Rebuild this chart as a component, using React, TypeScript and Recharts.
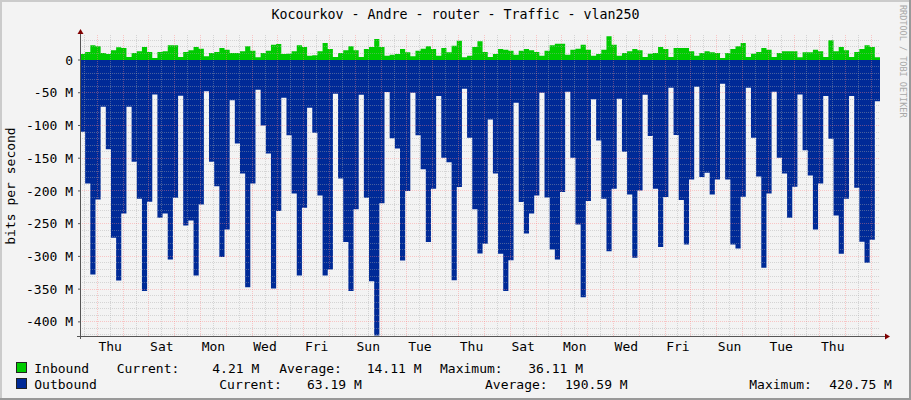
import React from 'react';
import { AreaChart, Area, XAxis, YAxis, ReferenceLine } from 'recharts';

// ---- data (values in Mbit/s) ----
const STEP_HOURS = 4.8;
const SPAN_HOURS = 744;
const FIRST_MIDNIGHT_HOURS = 16.1;

const dayLabels = ['Thu', 'Sat', 'Mon', 'Wed', 'Fri', 'Sun', 'Tue', 'Thu', 'Sat', 'Mon', 'Wed', 'Fri', 'Sun', 'Tue', 'Thu'];

const inboundM = [
  9.2, 12.2, 22.4, 20.9, 10.7, 9.2, 14.8, 19.4, 18.3, 4.6,
  10.7, 13.2, 19.9, 12.2, 3.1, 12.2, 13.2, 22.4, 22.4, 4.6,
  12.2, 14.8, 19.9, 17.3, 5.6, 10.7, 12.2, 18.3, 15.8, 10.7,
  10.7, 13.2, 20.9, 14.3, 4.1, 10.7, 14.3, 23.4, 24.5, 9.2,
  9.7, 13.2, 22.4, 19.9, 6.6, 7.1, 13.2, 26.0, 16.8, 4.6,
  10.7, 14.8, 20.9, 14.8, 4.6, 16.8, 19.9, 32.1, 19.9, 6.6,
  8.2, 9.2, 16.8, 11.7, 5.6, 14.3, 17.3, 20.9, 16.8, 6.6,
  18.3, 11.7, 21.9, 29.6, 4.1, 6.6, 19.9, 28.5, 12.2, 4.6,
  9.2, 16.8, 15.8, 14.3, 8.2, 14.3, 16.8, 14.8, 12.2, 6.6,
  14.3, 22.4, 25.0, 25.0, 8.2, 15.8, 17.3, 23.4, 15.8, 6.6,
  9.2, 15.8, 36.11, 23.4, 6.6, 10.7, 13.2, 16.8, 14.8, 4.6,
  9.7, 10.7, 19.9, 16.8, 4.6, 18.3, 18.3, 18.3, 13.2, 6.6,
  10.7, 13.2, 11.7, 10.7, 3.1, 10.7, 16.8, 20.9, 26.0, 4.6,
  9.7, 12.2, 18.3, 15.8, 4.6, 10.7, 13.2, 13.2, 13.2, 4.1,
  11.7, 11.7, 15.8, 13.2, 4.6, 30.1, 13.2, 19.9, 14.8, 4.6,
  12.2, 16.8, 22.4, 19.9, 4.21,
];

const outboundM = [
  109.5, 188.5, 327.6, 213.0, 71.3, 136.5, 271.6, 336.8, 234.4, 71.3,
  155.4, 212.0, 353.0, 216.5, 52.5, 241.0, 234.4, 304.7, 210.4, 54.5,
  252.7, 245.0, 329.0, 220.6, 47.9, 155.4, 193.0, 301.0, 258.8, 61.6,
  127.4, 173.2, 347.0, 188.5, 45.3, 99.9, 142.7, 349.0, 230.8, 57.6,
  115.0, 203.8, 329.0, 225.7, 72.9, 111.0, 206.9, 329.0, 320.0, 51.5,
  180.9, 278.0, 353.0, 228.0, 53.0, 210.4, 337.8, 420.75, 219.0, 48.9,
  119.7, 135.0, 306.2, 200.2, 49.9, 115.0, 167.0, 278.0, 196.7, 55.0,
  149.3, 156.0, 336.3, 194.0, 43.8, 118.7, 228.0, 295.5, 280.7, 90.7,
  173.2, 296.0, 353.0, 305.7, 65.2, 217.0, 265.0, 234.4, 206.9, 49.9,
  210.0, 289.4, 304.7, 201.8, 48.4, 149.3, 251.2, 362.3, 215.5, 60.1,
  122.8, 212.0, 292.0, 196.7, 59.1, 140.0, 205.3, 302.0, 199.2, 53.0,
  116.2, 196.7, 285.8, 209.4, 42.3, 114.6, 214.0, 281.8, 182.4, 40.8,
  178.8, 172.2, 205.3, 182.4, 36.2, 182.4, 281.8, 287.9, 208.9, 42.3,
  118.7, 177.8, 317.4, 203.8, 48.4, 149.3, 173.2, 241.0, 193.6, 52.5,
  138.0, 176.3, 258.8, 188.5, 55.0, 120.2, 237.4, 296.0, 212.0, 55.0,
  195.1, 277.7, 309.8, 274.6, 63.19,
];

const yTicks = [-400, -350, -300, -250, -200, -150, -100, -50, 0];
const Y_DOMAIN = [-421.6, 38.2];

const legendRows = [
  { name: 'Inbound', color: '#00CC00', current: '4.21 M', average: '14.11 M', maximum: '36.11 M' },
  { name: 'Outbound', color: '#002A97', current: '63.19 M', average: '190.59 M', maximum: '420.75 M' },
];

// ---- derived ----
const data = inboundM.map((v, i) => ({ t: i * STEP_HOURS, inbound: v, outbound: -outboundM[i] }));
data.push({ t: SPAN_HOURS, inbound: inboundM[inboundM.length - 1], outbound: -outboundM[outboundM.length - 1] });

const labelTicks = dayLabels.map((_, i) => FIRST_MIDNIGHT_HOURS + 12 + 48 * i);
const fmtDay = (v: number) => {
  const i = Math.round((v - FIRST_MIDNIGHT_HOURS - 12) / 48);
  return dayLabels[i] ?? '';
};
const fmtY = (v: number) => (v === 0 ? '0' : `${v} M`);

const midnightLines: number[] = [];
for (let t = FIRST_MIDNIGHT_HOURS; t < SPAN_HOURS; t += 24) midnightLines.push(t);
const noonLines: number[] = [];
for (let t = FIRST_MIDNIGHT_HOURS - 12; t < SPAN_HOURS; t += 24) if (t > 0) noonLines.push(t);
const majorY = yTicks.filter((v) => v !== 0);
const minorY: number[] = [];
for (let v = -420; v <= 30; v += 10) if (v % 50 !== 0) minorY.push(v);

const MONO = '"DejaVu Sans Mono", monospace';
const MINOR = 'rgba(170,170,170,0.42)';
const MAJOR = 'rgba(255,128,128,0.4)';

export default function App() {
  return (
    <div style={{ position: 'absolute', left: 0, top: 0, width: 911, height: 400, background: '#F3F3F3', overflow: 'hidden' }}>
      <AreaChart
        width={911}
        height={400}
        data={data}
        margin={{ top: 35, right: 31, bottom: 34, left: 0 }}
      >
        <XAxis
          dataKey="t"
          type="number"
          domain={[0, SPAN_HOURS]}
          allowDataOverflow
          ticks={labelTicks}
          tickFormatter={fmtDay}
          interval={0}
          height={30}
          axisLine={false}
          tickLine={false}
          tickSize={2}
          tickMargin={3.5}
          tick={{ fill: '#000', fontSize: 13, fontFamily: MONO }}
        />
        <YAxis
          type="number"
          domain={Y_DOMAIN}
          allowDataOverflow
          ticks={yTicks}
          tickFormatter={fmtY}
          interval={0}
          width={80}
          axisLine={false}
          tickLine={{ stroke: '#555' }}
          tickSize={2}
          tickMargin={5}
          tick={{ fill: '#000', fontSize: 13, fontFamily: MONO }}
        />
        <Area
          type="stepAfter"
          dataKey="inbound"
          stroke="none"
          fill="#00CC00"
          fillOpacity={1}
          baseValue={0}
          dot={false}
          activeDot={false}
          isAnimationActive={false}
        />
        <Area
          type="stepAfter"
          dataKey="outbound"
          stroke="none"
          fill="#002A97"
          fillOpacity={1}
          baseValue={0}
          dot={false}
          activeDot={false}
          isAnimationActive={false}
        />
        {minorY.map((v) => (
          <ReferenceLine key={`my${v}`} y={v} stroke={MINOR} strokeDasharray="1 1" shapeRendering="crispEdges" />
        ))}
        {noonLines.map((t) => (
          <ReferenceLine key={`nx${t}`} x={t} stroke={MINOR} strokeDasharray="1 1" shapeRendering="crispEdges" />
        ))}
        {majorY.map((v) => (
          <ReferenceLine key={`My${v}`} y={v} stroke={MAJOR} strokeDasharray="1 1" shapeRendering="crispEdges" />
        ))}
        {midnightLines.map((t) => (
          <ReferenceLine key={`Mx${t}`} x={t} stroke={MAJOR} strokeDasharray="1 1" shapeRendering="crispEdges" />
        ))}
      </AreaChart>
      <svg
        width={911}
        height={400}
        style={{ position: 'absolute', left: 0, top: 0, pointerEvents: 'none' }}
        fontFamily={MONO}
      >
        {/* frame */}
        <rect x={0} y={0} width={911} height={2} fill="#CBCBCB" />
        <rect x={0} y={0} width={2} height={400} fill="#CBCBCB" />
        <rect x={0} y={398} width={911} height={2} fill="#999999" />
        <rect x={909} y={0} width={2} height={400} fill="#999999" />
        {/* axes */}
        <line x1={80.5} y1={31} x2={80.5} y2={339} stroke="#555" strokeWidth={1} />
        <line x1={77} y1={336.5} x2={886} y2={336.5} stroke="#555" strokeWidth={1} />
        <polygon points="77.5,34 83.5,34 80.5,29" fill="#800000" />
        <polygon points="885,333.5 885,339.5 890,336.5" fill="#800000" />
        {/* title */}
        <text x={455.5} y={19.3} textAnchor="middle" fontSize={13.3} fill="#000">
          Kocourkov - Andre - router - Traffic - vlan250
        </text>
        {/* y label */}
        <text x={14.5} y={186} textAnchor="middle" fontSize={13} fill="#000" transform="rotate(-90 14.5 186)">
          bits per second
        </text>
        {/* watermark */}
        <text x={900} y={5} fontSize={8.5} fill="#A8A8A8" transform="rotate(90 900 5)">
          RRDTOOL / TOBI OETIKER
        </text>
        {/* legend */}
        <rect x={16.5} y={362.5} width={10} height={10} fill={legendRows[0].color} stroke="#222" />
        <text x={34.3} y={373.3} fontSize={13} fill="#000">{legendRows[0].name}</text>
        <text x={116.7} y={373.3} fontSize={13} fill="#000">Current:</text>
        <text x={212.3} y={373.3} fontSize={13} fill="#000">{legendRows[0].current}</text>
        <text x={279.3} y={373.3} fontSize={13} fill="#000">Average:</text>
        <text x={366.7} y={373.3} fontSize={13} fill="#000">{legendRows[0].average}</text>
        <text x={440} y={373.3} fontSize={13} fill="#000">Maximum:</text>
        <text x={528.3} y={373.3} fontSize={13} fill="#000">{legendRows[0].maximum}</text>

        <rect x={16.5} y={378.5} width={10} height={10} fill={legendRows[1].color} stroke="#222" />
        <text x={34.3} y={389} fontSize={13} fill="#000">{legendRows[1].name}</text>
        <text x={219.3} y={389} fontSize={13} fill="#000">Current:</text>
        <text x={307} y={389} fontSize={13} fill="#000">{legendRows[1].current}</text>
        <text x={485} y={389} fontSize={13} fill="#000">Average:</text>
        <text x={565} y={389} fontSize={13} fill="#000">{legendRows[1].average}</text>
        <text x={749.3} y={389} fontSize={13} fill="#000">Maximum:</text>
        <text x={829.3} y={389} fontSize={13} fill="#000">{legendRows[1].maximum}</text>
      </svg>
    </div>
  );
}
